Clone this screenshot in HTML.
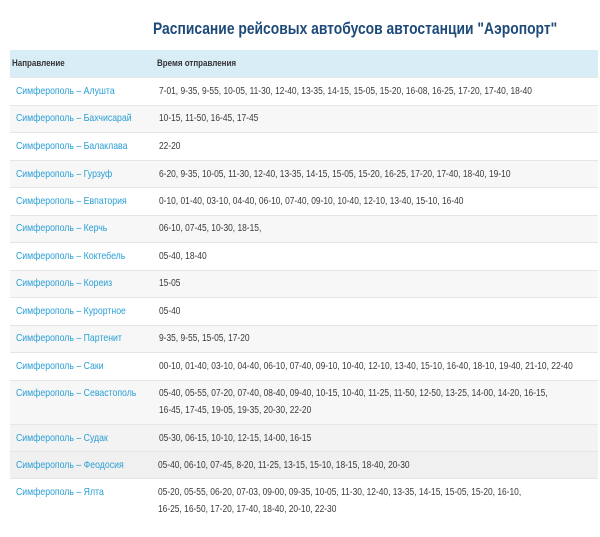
<!DOCTYPE html>
<html><head><meta charset="utf-8"><style>
body{margin:0;width:600px;height:537px;background:#fff;font-family:"Liberation Sans",sans-serif;position:relative;overflow:hidden}
.t{position:absolute;left:153px;top:19px;font-size:17px;font-weight:bold;color:#1d4a78;white-space:nowrap;transform:scaleX(0.815);transform-origin:left}
.r{position:absolute;left:10px;width:588px;border-top:1px solid #e6e6e6}
.c{position:absolute;font-size:10px;white-space:nowrap;transform:scaleX(0.84);transform-origin:left;line-height:17px}
.a{left:16px;color:#2a9fd6;font-size:10.4px}
.b{left:159px;color:#3a3a3a}
.h{font-weight:bold;color:#333;font-size:9.5px}
</style></head><body>
<div class="t">Расписание рейсовых автобусов автостанции "Аэропорт"</div>
<div class="r" style="top:50px;height:27px;background:#d9edf7;border:none"></div>
<div class="c h" style="left:12px;top:55px">Направление</div>
<div class="c h" style="left:157px;top:55px">Время отправления</div>

<div class="r" style="top:77px;height:28px;background:#fff"></div>
<div class="r" style="top:105px;height:27px;background:#f7f7f7"></div>
<div class="r" style="top:132px;height:28px;background:#fff"></div>
<div class="r" style="top:160px;height:27px;background:#f7f7f7"></div>
<div class="r" style="top:187px;height:28px;background:#fff"></div>
<div class="r" style="top:215px;height:27px;background:#f7f7f7"></div>
<div class="r" style="top:242px;height:28px;background:#fff"></div>
<div class="r" style="top:270px;height:27px;background:#f7f7f7"></div>
<div class="r" style="top:297px;height:28px;background:#fff"></div>
<div class="r" style="top:325px;height:27px;background:#f7f7f7"></div>
<div class="r" style="top:352px;height:28px;background:#fff"></div>
<div class="r" style="top:380px;height:44px;background:#f7f7f7"></div>
<div class="r" style="top:424px;height:27px;background:#f3f3f3"></div>
<div class="r" style="top:451px;height:27px;background:#f0f0f0"></div>
<div class="r" style="top:478px;height:50px;background:#fff"></div>

<div class="c a" style="top:83px">Симферополь – Алушта</div><div class="c b" style="top:83px">7-01, 9-35, 9-55, 10-05, 11-30, 12-40, 13-35, 14-15, 15-05, 15-20, 16-08, 16-25, 17-20, 17-40, 18-40</div>
<div class="c a" style="top:110px">Симферополь – Бахчисарай</div><div class="c b" style="top:110px">10-15, 11-50, 16-45, 17-45</div>
<div class="c a" style="top:138px">Симферополь – Балаклава</div><div class="c b" style="top:138px">22-20</div>
<div class="c a" style="top:166px">Симферополь – Гурзуф</div><div class="c b" style="top:166px">6-20, 9-35, 10-05, 11-30, 12-40, 13-35, 14-15, 15-05, 15-20, 16-25, 17-20, 17-40, 18-40, 19-10</div>
<div class="c a" style="top:193px">Симферополь – Евпатория</div><div class="c b" style="top:193px">0-10, 01-40, 03-10, 04-40, 06-10, 07-40, 09-10, 10-40, 12-10, 13-40, 15-10, 16-40</div>
<div class="c a" style="top:220px">Симферополь – Керчь</div><div class="c b" style="top:220px">06-10, 07-45, 10-30, 18-15,</div>
<div class="c a" style="top:248px">Симферополь – Коктебель</div><div class="c b" style="top:248px">05-40, 18-40</div>
<div class="c a" style="top:275px">Симферополь – Кореиз</div><div class="c b" style="top:275px">15-05</div>
<div class="c a" style="top:303px">Симферополь – Курортное</div><div class="c b" style="top:303px">05-40</div>
<div class="c a" style="top:330px">Симферополь – Партенит</div><div class="c b" style="top:330px">9-35, 9-55, 15-05, 17-20</div>
<div class="c a" style="top:358px">Симферополь – Саки</div><div class="c b" style="top:358px">00-10, 01-40, 03-10, 04-40, 06-10, 07-40, 09-10, 10-40, 12-10, 13-40, 15-10, 16-40, 18-10, 19-40, 21-10, 22-40</div>
<div class="c a" style="top:385px">Симферополь – Севастополь</div><div class="c b" style="top:385px">05-40, 05-55, 07-20, 07-40, 08-40, 09-40, 10-15, 10-40, 11-25, 11-50, 12-50, 13-25, 14-00, 14-20, 16-15,<br>16-45, 17-45, 19-05, 19-35, 20-30, 22-20</div>
<div class="c a" style="top:430px">Симферополь – Судак</div><div class="c b" style="top:430px">05-30, 06-15, 10-10, 12-15, 14-00, 16-15</div>
<div class="c a" style="top:457px">Симферополь – Феодосия</div><div class="c b" style="top:457px;left:158px">05-40, 06-10, 07-45, 8-20, 11-25, 13-15, 15-10, 18-15, 18-40, 20-30</div>
<div class="c a" style="top:484px">Симферополь – Ялта</div><div class="c b" style="top:484px;left:158px">05-20, 05-55, 06-20, 07-03, 09-00, 09-35, 10-05, 11-30, 12-40, 13-35, 14-15, 15-05, 15-20, 16-10,<br>16-25, 16-50, 17-20, 17-40, 18-40, 20-10, 22-30</div>
</body></html>
